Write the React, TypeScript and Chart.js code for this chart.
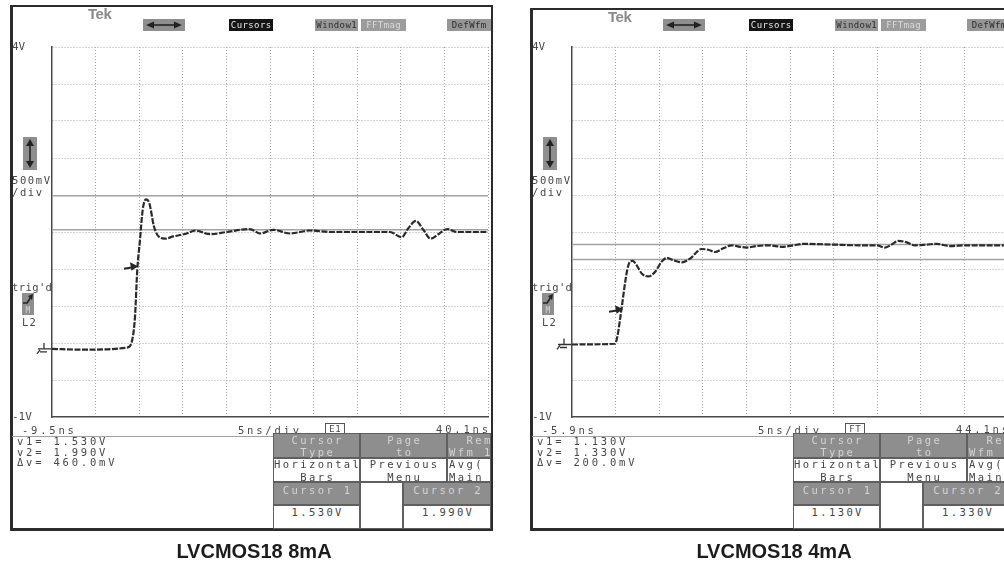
import React, { useEffect, useRef } from "react";
import { Chart, registerables } from "chart.js";
Chart.register(...registerables);

// ---------------- data ----------------
const Y_GRID = [4, 3.5, 3, 2.5, 2, 1.5, 1, 0.5, 0, -0.5, -1];
const Y_TICK_VALUES = [4, -1];
const Y_TICK_TEXT = ["4V", "-1V"];

// left scope: LVCMOS18 8mA (time in ns, level in V)
const LEFT_X_GRID = [-9.5, -4.5, 0.5, 5.5, 10.5, 15.5, 20.5, 25.5, 30.5, 35.5, 40.5];
const LEFT_T = [-9.5, -5.9, -0.8, -0.25, 0.02, 0.28, 0.59, 0.9, 1.28, 1.66, 2.2, 2.81, 3.46, 4.41, 5.95, 6.9, 8.62, 10.54, 13.2, 14.35, 15.88, 17.79, 20.09, 22.38, 25.82, 29.26, 30.6, 31.36, 32.24, 33.08, 33.93, 34.8, 35.83, 36.91, 39.2, 40.5];
const LEFT_V = [-0.08, -0.09, -0.06, 0.07, 0.36, 0.99, 1.39, 1.8, 1.94, 1.89, 1.57, 1.43, 1.41, 1.44, 1.48, 1.52, 1.47, 1.5, 1.54, 1.48, 1.53, 1.48, 1.52, 1.5, 1.5, 1.5, 1.43, 1.55, 1.65, 1.53, 1.41, 1.47, 1.54, 1.5, 1.5, 1.5];
const LEFT_CURSORS = [1.53, 1.99];
const LEFT_TRIGGER = [0.36, 1.03];

// right scope: LVCMOS18 4mA
const RIGHT_X_GRID = [-5.9, -0.9, 4.1, 9.1, 14.1, 19.1, 24.1, 29.1, 34.1, 39.1, 44.1];
const RIGHT_T = [-5.9, -0.97, -0.7, -0.4, -0.13, 0.18, 0.44, 0.75, 1.06, 1.52, 2.09, 2.85, 3.62, 4.39, 4.96, 5.72, 6.68, 7.63, 8.97, 9.73, 10.5, 11.45, 12.41, 13.37, 14.13, 15.28, 16.61, 18.33, 19.48, 20.63, 24.07, 27.13, 29.04, 29.99, 30.76, 31.52, 32.48, 33.43, 34.78, 35.92, 37.45, 39.36, 44.1];
const RIGHT_V = [-0.02, -0.01, 0.085, 0.31, 0.54, 0.81, 0.99, 1.1, 1.11, 1.05, 0.94, 0.9, 0.96, 1.1, 1.15, 1.12, 1.09, 1.14, 1.27, 1.26, 1.23, 1.28, 1.32, 1.3, 1.29, 1.31, 1.32, 1.3, 1.32, 1.34, 1.33, 1.32, 1.32, 1.29, 1.33, 1.38, 1.36, 1.32, 1.33, 1.34, 1.31, 1.32, 1.32];
const RIGHT_CURSORS = [1.13, 1.33];
const RIGHT_TRIGGER = [-0.05, 0.45];

const LEFT_TEXT = {
  caption: "LVCMOS18 8mA",
  start: "-9.5ns",
  end: "40.1ns",
  src: "E1",
  readout: ["v1= 1.530V", "v2= 1.990V", "Δv= 460.0mV"],
  cursorVals: ["1.530V", "1.990V"],
};
const RIGHT_TEXT = {
  caption: "LVCMOS18 4mA",
  start: "-5.9ns",
  end: "44.1ns",
  src: "FT",
  readout: ["v1= 1.130V", "v2= 1.330V", "Δv= 200.0mV"],
  cursorVals: ["1.130V", "1.330V"],
};

// ---------------- helpers ----------------
const MONO = '"DejaVu Sans Mono", "Liberation Mono", monospace';
const GRAY = "#8e8e8e";

const scopeMarks = {
  id: "scopeMarks",
  afterDatasetsDraw(chart: any, _args: any, opts: any) {
    const { ctx, chartArea } = chart;
    const xs = chart.scales.x;
    const ys = chart.scales.y;
    const tx = xs.getPixelForValue(opts.trigger[0]);
    const ty = ys.getPixelForValue(opts.trigger[1]);
    ctx.save();
    ctx.setLineDash([]);
    ctx.strokeStyle = "#262626";
    ctx.fillStyle = "#262626";
    ctx.lineWidth = 2;
    ctx.beginPath();
    ctx.moveTo(tx - 14, ty + 2);
    ctx.lineTo(tx - 5, ty + 0.5);
    ctx.stroke();
    ctx.beginPath();
    ctx.moveTo(tx, ty - 0.5);
    ctx.lineTo(tx - 8, ty - 4.5);
    ctx.lineTo(tx - 6.5, ty + 4);
    ctx.closePath();
    ctx.fill();
    const gx = chartArea.left - 11;
    const gy = ys.getPixelForValue(opts.ground);
    ctx.lineWidth = 1.3;
    ctx.strokeStyle = "#333";
    ctx.beginPath();
    ctx.moveTo(gx + 3, gy - 6);
    ctx.lineTo(gx + 3, gy);
    ctx.moveTo(gx - 3, gy);
    ctx.lineTo(gx + 10, gy);
    ctx.moveTo(gx - 1, gy + 3);
    ctx.lineTo(gx + 6, gy + 3);
    ctx.moveTo(gx - 4, gy + 5);
    ctx.lineTo(gx - 1, gy + 1);
    ctx.stroke();
    ctx.restore();
  },
};

function buildConfig(grid: number[], t: number[], v: number[], cursors: number[], trigger: number[]) {
  const xMin = grid[0];
  const xMax = grid[grid.length - 1];
  const border = { display: true, color: "#4a4a4a", width: 1.5, dash: [1, 2] };
  return {
    type: "line",
    data: {
      datasets: [
        {
          data: t.map((x, i) => ({ x, y: v[i] })),
          borderColor: "#2a2a2a",
          borderWidth: 2.2,
          borderDash: [6, 1.5],
          pointRadius: 0,
          cubicInterpolationMode: "monotone",
          order: 0,
        },
        ...cursors.map((c) => ({
          data: [
            { x: xMin, y: c },
            { x: xMax, y: c },
          ],
          borderColor: "#a2a2a2",
          borderWidth: 1.5,
          pointRadius: 0,
          order: 1,
        })),
      ],
    },
    options: {
      animation: false,
      responsive: false,
      devicePixelRatio: 1,
      events: [],
      layout: { padding: { left: 2, top: 47, right: 12, bottom: 149 } },
      plugins: {
        legend: { display: false },
        tooltip: { enabled: false },
        scopeMarks: { trigger, ground: v[0] },
      },
      scales: {
        x: {
          type: "linear",
          min: xMin,
          max: xMax,
          ticks: { display: false },
          grid: {
            drawTicks: false,
            lineWidth: 1,
            color: (c: any) => (c.tick && c.tick.value === xMin ? "rgba(0,0,0,0)" : "#a9a9a9"),
          },
          border,
          afterBuildTicks: (s: any) => {
            s.ticks = grid.map((value) => ({ value }));
          },
          afterFit: (s: any) => {
            s.height = 0;
          },
        },
        y: {
          type: "linear",
          min: -1,
          max: 4,
          ticks: {
            autoSkip: false,
            crossAlign: "far",
            padding: 0,
            color: "#4a4a4a",
            font: { family: "DejaVu Sans Mono", size: 11 },
            callback: (val: any) => {
              const i = Y_TICK_VALUES.indexOf(Number(val));
              return i >= 0 ? Y_TICK_TEXT[i] : "";
            },
          },
          grid: {
            drawTicks: false,
            lineWidth: 1,
            color: (c: any) => (c.tick && c.tick.value === -1 ? "rgba(0,0,0,0)" : "#a9a9a9"),
          },
          border,
          afterBuildTicks: (s: any) => {
            s.ticks = Y_GRID.map((value) => ({ value }));
          },
          afterFit: (s: any) => {
            s.width = 40;
          },
        },
      },
    },
    plugins: [scopeMarks],
  };
}

function ScopeCanvas({ dx, grid, t, v, cursors, trigger }: any) {
  const ref = useRef<HTMLCanvasElement>(null);
  useEffect(() => {
    const chart = new Chart(ref.current as HTMLCanvasElement, buildConfig(grid, t, v, cursors, trigger) as any);
    return () => chart.destroy();
  }, []);
  return (
    <canvas
      ref={ref}
      width={490}
      height={566}
      style={{ position: "absolute", left: 10 + dx, top: 0, width: 490, height: 566 }}
    />
  );
}

function Txt({ x, y, s, size = 10.5, ls = 2.8, color = "#484848", align = "left", family = MONO, weight = 400 }: any) {
  const lh = 12;
  const st: any = {
    position: "absolute",
    top: y - lh / 2,
    height: lh,
    lineHeight: lh + "px",
    fontFamily: family,
    fontSize: size,
    fontWeight: weight,
    letterSpacing: ls,
    color,
    whiteSpace: "pre",
  };
  if (align === "left") st.left = x;
  else if (align === "right") {
    st.left = x - 300 + ls;
    st.width = 300;
    st.textAlign = "right";
  } else {
    st.left = x - 150 + ls / 2;
    st.width = 300;
    st.textAlign = "center";
  }
  return <div style={st}>{s}</div>;
}

function Box({ x1, y1, x2, y2, bg, bc, children }: any) {
  return (
    <div
      style={{
        position: "absolute",
        left: x1,
        top: y1,
        width: x2 - x1,
        height: y2 - y1,
        background: bg,
        boxSizing: "border-box",
        border: bc ? `1px solid ${bc}` : "none",
        overflow: "hidden",
      }}
    >
      {children}
    </div>
  );
}

function Panel({ dx, top, tx, grid, t, v, cursors, trigger }: any) {
  const X = (x: number) => x + dx;
  const cells = [
    { x1: 273, x2: 360, y1: 433, y2: 458, bg: GRAY, lines: [["Cursor", 7], ["Type", 19]] },
    { x1: 360, x2: 447, y1: 433, y2: 458, bg: GRAY, lines: [["Page", 7], ["to", 19]] },
    { x1: 447, x2: 491, y1: 433, y2: 458, bg: GRAY, left: true, lines: [["  Rem", 7], ["Wfm 1", 19]] },
    { x1: 273, x2: 360, y1: 458, y2: 482, bg: "#fff", lines: [["Horizontal", 5.5], ["Bars", 18.5]] },
    { x1: 360, x2: 447, y1: 458, y2: 482, bg: "#fff", lines: [["Previous", 5.5], ["Menu", 18.5]] },
    { x1: 447, x2: 491, y1: 458, y2: 482, bg: "#fff", left: true, lines: [["Avg(", 5.5], ["Main", 18.5]] },
    { x1: 273, x2: 360, y1: 482, y2: 505, bg: GRAY, lines: [["Cursor 1", 7.5]] },
    { x1: 360, x2: 403, y1: 482, y2: 529, bg: "#fff", lines: [] },
    { x1: 403, x2: 491, y1: 482, y2: 505, bg: GRAY, lines: [["Cursor 2", 7.5]] },
    { x1: 273, x2: 360, y1: 505, y2: 529, bg: "#fff", lines: [[tx.cursorVals[0], 6.5]] },
    { x1: 403, x2: 491, y1: 505, y2: 529, bg: "#fff", lines: [[tx.cursorVals[1], 6.5]] },
  ];
  const buttons = [
    { x1: 229, x2: 273, bg: "#141414", s: "Cursors", c: "#e8e8e8" },
    { x1: 315, x2: 358, bg: "#979797", s: "Window1", c: "#2e2e2e" },
    { x1: 361, x2: 406, bg: "#9c9c9c", s: "FFTmag", c: "#dcdcdc" },
    { x1: 447, x2: 491, bg: "#979797", s: "DefWfm", c: "#2e2e2e" },
  ];
  return (
    <>
      <div
        style={{
          position: "absolute",
          left: X(10),
          top,
          width: 483,
          height: 531 - top,
          boxSizing: "border-box",
          borderTop: "2px solid #2b2b2b",
          borderRight: "2px solid #2b2b2b",
          borderBottom: "3px solid #2b2b2b",
          borderLeft: "3px solid #2b2b2b",
          background: "#fff",
        }}
      />
      <ScopeCanvas dx={dx} grid={grid} t={t} v={v} cursors={cursors} trigger={trigger} />
      {/* top bar */}
      <div
        style={{
          position: "absolute",
          left: X(88),
          top: top + 1,
          fontFamily: '"Liberation Sans", Arial, sans-serif',
          fontWeight: 700,
          fontSize: 15,
          lineHeight: "15px",
          color: "#8a8a8a",
          letterSpacing: -0.5,
        }}
      >
        Tek
      </div>
      <Box x1={X(143)} y1={19} x2={X(185)} y2={31} bg={GRAY}>
        <svg width="42" height="12" style={{ display: "block" }}>
          <line x1="8" y1="6" x2="34" y2="6" stroke="#222" strokeWidth="1.6" />
          <polygon points="3,6 11,2.5 11,9.5" fill="#222" />
          <polygon points="39,6 31,2.5 31,9.5" fill="#222" />
        </svg>
      </Box>
      {buttons.map((b, i) => (
        <React.Fragment key={i}>
          <Box x1={X(b.x1)} y1={19} x2={X(b.x2)} y2={31} bg={b.bg} />
          <Txt x={X((b.x1 + b.x2) / 2)} y={25} s={b.s} size={9} ls={0.4} color={b.c} align="center" />
        </React.Fragment>
      ))}
      {/* left side labels */}
      <Box x1={X(23)} y1={137} x2={X(37)} y2={170} bg={GRAY}>
        <svg width="14" height="33" style={{ display: "block" }}>
          <line x1="7" y1="7" x2="7" y2="26" stroke="#222" strokeWidth="1.6" />
          <polygon points="7,2 3,9 11,9" fill="#222" />
          <polygon points="7,31 3,24 11,24" fill="#222" />
        </svg>
      </Box>
      <Txt x={X(12)} y={180} s="500mV" ls={1.6} />
      <Txt x={X(12)} y={192} s="/div" ls={1.6} />
      <Txt x={X(12)} y={287} s="trig'd" ls={0.4} />
      <Box x1={X(22)} y1={293} x2={X(34)} y2={315} bg={GRAY}>
        <svg width="12" height="22" style={{ display: "block" }}>
          <polyline points="1,10 5,10 9,4" fill="none" stroke="#222" strokeWidth="1.6" />
          <polygon points="11,1 6,3 10,7" fill="#222" />
          <text x="6" y="20" fontSize="8" fontFamily={MONO} fill="#d6d6d6" textAnchor="middle">M</text>
        </svg>
      </Box>
      <Txt x={X(22)} y={322} s="L2" ls={1.2} />
      {/* bottom readouts */}
      <Txt x={X(22)} y={430} s={tx.start} />
      <Txt x={X(238)} y={430} s="5ns/div" />
      <Box x1={X(325)} y1={423} x2={X(345)} y2={434} bg="#fff" bc="#555" />
      <Txt x={X(335)} y={428.5} s={tx.src} size={9} ls={0.5} align="center" />
      <Txt x={X(488)} y={429} s={tx.end} align="right" />
      <Box x1={X(12)} y1={436} x2={X(273)} y2={437} bg="#a0a0a0" />
      {tx.readout.map((s: string, i: number) => (
        <Txt key={i} x={X(17)} y={441 + i * 10.5} s={s} />
      ))}
      {cells.map((c: any, i: number) => (
        <React.Fragment key={"c" + i}>
          <Box x1={X(c.x1)} y1={c.y1} x2={X(c.x2)} y2={c.y2} bg={c.bg} bc="#5f5f5f" />
          {c.lines.map((l: any, j: number) => (
            <Txt
              key={j}
              x={c.left ? X(c.x1 + 2) : X((c.x1 + c.x2) / 2)}
              y={c.y1 + l[1]}
              s={l[0]}
              align={c.left ? "left" : "center"}
              ls={2.4}
              color={c.bg === "#fff" ? "#444444" : "#d4d4d4"}
            />
          ))}
        </React.Fragment>
      ))}
      {/* caption */}
      <div
        style={{
          position: "absolute",
          left: X(254) - 150,
          width: 300,
          top: 541,
          textAlign: "center",
          fontFamily: '"Liberation Sans", Arial, sans-serif',
          fontWeight: 700,
          fontSize: 20,
          lineHeight: "20px",
          color: "#1c1c1c",
        }}
      >
        {tx.caption}
      </div>
    </>
  );
}

export default function App() {
  return (
    <div
      style={{
        position: "absolute",
        left: 0,
        top: 0,
        width: 1004,
        height: 566,
        overflow: "hidden",
        background: "#fff",
      }}
    >
      <Panel dx={0} top={5} tx={LEFT_TEXT} grid={LEFT_X_GRID} t={LEFT_T} v={LEFT_V} cursors={LEFT_CURSORS} trigger={LEFT_TRIGGER} />
      <Panel dx={520} top={8} tx={RIGHT_TEXT} grid={RIGHT_X_GRID} t={RIGHT_T} v={RIGHT_V} cursors={RIGHT_CURSORS} trigger={RIGHT_TRIGGER} />
    </div>
  );
}
